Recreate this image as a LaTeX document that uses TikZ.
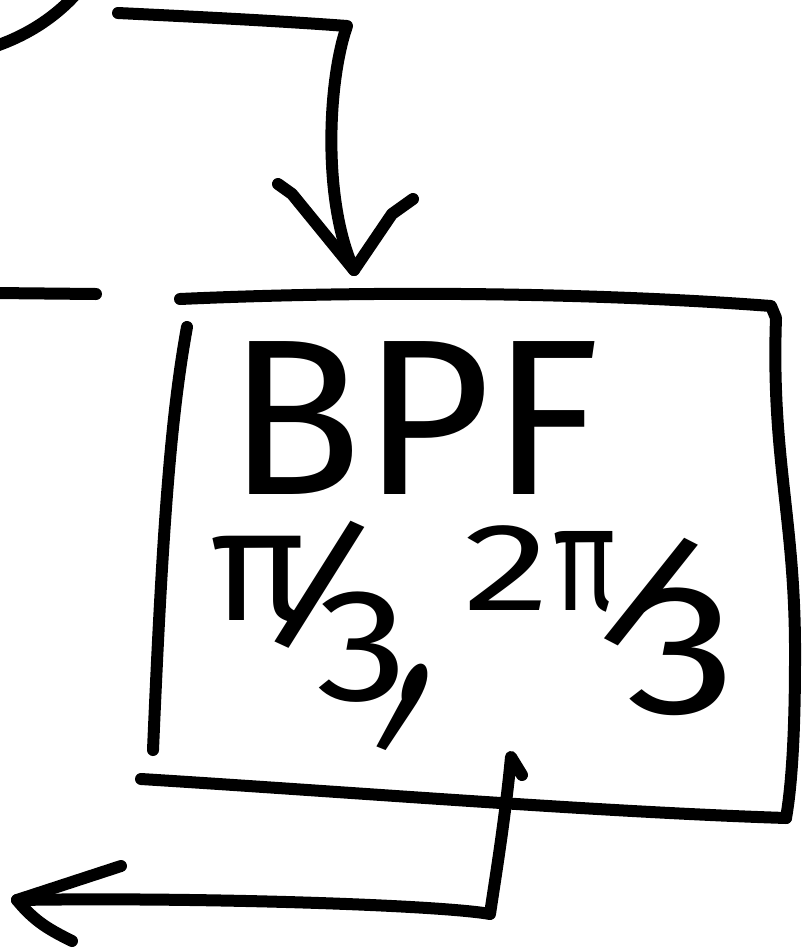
\documentclass[tikz,border=0pt]{standalone}
\usepackage{fontspec}
\newfontfamily\hand{Fira Sans}
\tikzset{
  ink/.style={line width=12pt, line cap=round, line join=round, draw=black},
  bigtxt/.style={inner sep=0pt, font=\hand\fontsize{222}{222}\selectfont},
  midtxt/.style={inner sep=0pt, font=\hand\fontsize{160}{160}\selectfont},
}
\begin{document}
\begin{tikzpicture}[x=1pt,y=-1pt]
\useasboundingbox (0,0) rectangle (803,951);
\clip (0,0) rectangle (803,951);
\fill[white] (0,0) rectangle (803,951);

% ---- named points ----
\coordinate (arcA) at (-4,46);
\coordinate (arcB) at (76,-6);
\coordinate (tA) at (118,13);
\coordinate (tB) at (347,26);
\coordinate (tip1) at (354,270);
\coordinate (hl1) at (278,184);
\coordinate (hr1) at (413,199);
\coordinate (lL) at (-6,293);
\coordinate (lR) at (96,294);
\coordinate (bTL) at (180,299);
\coordinate (bTR) at (771,306);
\coordinate (bBR) at (786,818);
\coordinate (bBL) at (141,779);
\coordinate (bLT) at (187,327);
\coordinate (bLB) at (153,750);
\coordinate (sTop) at (511,757);
\coordinate (sTick) at (522,775);
\coordinate (sCor) at (490,914);
\coordinate (tip2) at (17,900);
\coordinate (hl2) at (121,866);
\coordinate (hr2) at (72,941);

% ---- curve at top left ----
\draw[ink] (arcA) .. controls (30,34) and (56,16) .. (arcB);

% ---- incoming arrow ----
\draw[ink] (tA) .. controls (200,17) and (280,21) .. (tB)
  .. controls (328,80) and (322,200) .. (tip1);
\draw[ink] (hl1) -- (292,194) -- (tip1) -- (392,214) -- (hr1);

% ---- line at left ----
\draw[ink] (lL) -- (lR);

% ---- box ----
\draw[ink] (bTL) .. controls (380,290) and (600,293) .. (bTR) -- (776,318)
  .. controls (771,460) and (796,520) .. (795,660)
  .. controls (795,740) and (791,790) .. (bBR);
\draw[ink] (bBL) .. controls (350,792) and (600,812) .. (bBR);
\draw[ink] (bLT) .. controls (170,420) and (162,540) .. (bLB);

% ---- text ----
\node[bigtxt, anchor=base] (bpf) at (414,494) {BPF};
\node[midtxt, anchor=base west] (f1) at (210,620)
  {π\kern-51pt\raisebox{-18pt}{\rotatebox[origin=c]{-14}{\scalebox{1.2}[0.95]{/}}}\kern-68pt\raisebox{-.5em}{\scalebox{1.15}[1]{3}}};
\node[inner sep=0pt, anchor=center, font=\hand\fontsize{200}{200}\selectfont] (cm) at (406,708)
  {\rotatebox{-22}{\scalebox{0.75}[1.6]{,}}};
\node[inner sep=0pt, anchor=base west, font=\hand\fontsize{150}{150}\selectfont] (f2) at (463,610)
  {{\fontsize{125}{125}\selectfont\scalebox{1.4}[1]{2}}\kern4pt\scalebox{0.7}[1]{π}\kern-32pt\raisebox{-29pt}{\rotatebox[origin=c]{-18}{\scalebox{1.3}[0.9]{/}}}\kern-92pt\raisebox{-103pt}{\fontsize{185}{185}\selectfont\scalebox{1.2}[1]{3}}};

% ---- outgoing arrow ----
\draw[ink] (sTick) -- (sTop) .. controls (505,820) and (495,880) .. (sCor)
  .. controls (440,905) and (200,897) .. (tip2);
\draw[ink] (hl2) -- (tip2) .. controls (35,922) and (50,930) .. (hr2);
\end{tikzpicture}
\end{document}
